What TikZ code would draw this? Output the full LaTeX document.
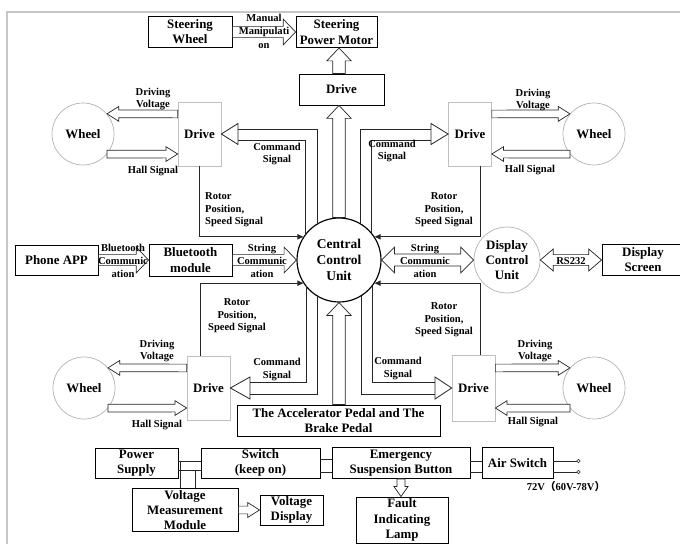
\documentclass[tikz,border=0pt]{standalone}
\usepackage{fontspec}
\setmainfont{Liberation Serif}
\newfontfamily\cjk{Noto Sans CJK SC}
\usetikzlibrary{calc, arrows.meta}

\newcommand{\boxfont}{\fontsize{11}{13}\selectfont\bfseries}
\newcommand{\lblfont}{\fontsize{9}{10.8}\selectfont\bfseries}

\tikzset{
  blk/.style n args={3}{draw=black!85, fill=white, line width=0.6pt,
    to path={let \p1=(\tikztostart), \p2=(\tikztotarget),
      \n1={atan2(\y2-\y1,\x2-\x1)}, \n2={veclen(\x2-\x1,\y2-\y1)} in
      ($(\p1)+(\n1+90:#1)$) -- ($(\p1)+(\n1:\n2-#3)+(\n1+90:#1)$)
      -- ($(\p1)+(\n1:\n2-#3)+(\n1+90:#2)$) -- (\p2)
      -- ($(\p1)+(\n1:\n2-#3)+(\n1-90:#2)$)
      -- ($(\p1)+(\n1:\n2-#3)+(\n1-90:#1)$)
      -- ($(\p1)+(\n1-90:#1)$) -- cycle}},
  dblk/.style n args={3}{draw=black!85, fill=white, line width=0.6pt,
    to path={let \p1=(\tikztostart), \p2=(\tikztotarget),
      \n1={atan2(\y2-\y1,\x2-\x1)}, \n2={veclen(\x2-\x1,\y2-\y1)} in
      (\p1) -- ($(\p1)+(\n1:#3)+(\n1+90:#2)$) -- ($(\p1)+(\n1:#3)+(\n1+90:#1)$)
      -- ($(\p1)+(\n1:\n2-#3)+(\n1+90:#1)$)
      -- ($(\p1)+(\n1:\n2-#3)+(\n1+90:#2)$) -- (\p2)
      -- ($(\p1)+(\n1:\n2-#3)+(\n1-90:#2)$)
      -- ($(\p1)+(\n1:\n2-#3)+(\n1-90:#1)$)
      -- ($(\p1)+(\n1:#3)+(\n1-90:#1)$) -- ($(\p1)+(\n1:#3)+(\n1-90:#2)$)
      -- cycle}},
  smallarr/.style={blk={3.3pt}{6.3pt}{10pt}},
  midarr/.style={blk={4.8pt}{11pt}{10.5pt}},
  bigarr/.style={blk={5.3pt}{10.4pt}{11pt}},
  tinyarr/.style={blk={3.4pt}{6pt}{8.5pt}},
  dmidarr/.style={dblk={5.2pt}{11pt}{11pt}},
}

\begin{document}
\begin{tikzpicture}[x=0.03cm, y=-0.03cm,
    box/.style={draw, line width=0.8pt, inner sep=0pt, align=center, font=\boxfont},
    drivebox/.style={draw=gray!50, line width=0.6pt, inner sep=0pt, font=\boxfont,
      minimum width=1.29cm, minimum height=1.92cm},
    wheel/.style={circle, draw=gray!60, line width=0.6pt, inner sep=0pt, font=\boxfont,
      minimum size=1.86cm},
    lbl/.style={align=center, inner sep=0pt, font=\lblfont},
    sig/.style={draw=black!85, line width=0.7pt, -{Triangle[length=5pt,width=4.5pt]}},
    pipe/.style={draw=black!85, line width=0.7pt},
    wire/.style={draw=black!85, line width=0.7pt},
    term/.style={circle, draw, line width=0.5pt, inner sep=0pt, minimum size=3pt, fill=white}]
  \useasboundingbox (0,0) rectangle (680,544);
  \draw[gray!45, line width=1.2pt] (7,544) -- (7,12) -- (680,12);

  \node[box, minimum width=2.52cm, minimum height=0.93cm] (sw) at (190,32) {Steering\\Wheel};
  \node[box, minimum width=2.43cm, minimum height=0.93cm] (spm) at (336.5,32) {Steering\\Power Motor};
  \node[box, minimum width=2.55cm, minimum height=0.93cm] (dtop) at (341.5,89.5) {Drive};
  \node[circle, draw, line width=1pt, inner sep=0pt, minimum size=2.52cm, align=center,
    font=\fontsize{11.5}{13.5}\selectfont\bfseries] (ccu) at (339,260) {Central\\Control\\Unit};

  \node[drivebox] (dtl) at (199.5,134) {Drive};
  \node[wheel] (wtl) at (83,134) {Wheel};
  \node[drivebox] (dtr) at (470,134) {Drive};
  \node[wheel] (wtr) at (594,134) {Wheel};
  \node[drivebox] (dbl) at (208.5,388) {Drive};
  \node[wheel] (wbl) at (84,388) {Wheel};
  \node[drivebox, minimum height=1.98cm] (dbr) at (473.5,388) {Drive};
  \node[wheel] (wbr) at (594,388) {Wheel};

  \node[box, minimum width=2.49cm, minimum height=0.9cm] (phone) at (56.5,260) {Phone APP};
  \node[box, minimum width=2.49cm, minimum height=0.96cm] (bt) at (190.5,260) {Bluetooth\\module};
  \node[circle, draw=gray!60, line width=0.6pt, inner sep=0pt, minimum size=1.98cm, align=center,
    font=\boxfont] (dcu) at (507,260) {Display\\Control\\Unit};
  \node[box, minimum width=2.46cm, minimum height=0.93cm] (ds) at (643,259.5) {Display\\Screen};

  \node[box, minimum width=6.09cm, minimum height=0.93cm,
    font=\fontsize{11}{12.5}\selectfont\bfseries] (acc) at (338.5,420.5) {The Accelerator Pedal and The\\Brake Pedal};

  \node[box, minimum width=2.49cm, minimum height=0.9cm] (ps) at (136.5,463) {Power\\Supply};
  \node[box, minimum width=3.57cm, minimum height=0.9cm] (sk) at (260.5,463) {Switch\\(keep on)};
  \node[box, minimum width=4.14cm, minimum height=0.93cm] (esb) at (401,463) {Emergency\\Suspension Button};
  \node[box, minimum width=2.13cm, minimum height=0.93cm] (as) at (517.5,463) {Air Switch};
  \node[box, minimum width=3.18cm, minimum height=1.29cm,
    font=\fontsize{11}{12.5}\selectfont\bfseries] (vmm) at (185,510) {Voltage\\Measurement\\Module};
  \node[box, minimum width=1.89cm, minimum height=0.9cm] (vd) at (291.5,510) {Voltage\\Display};
  \node[box, minimum width=2.76cm, minimum height=1.38cm,
    font=\fontsize{11}{13.5}\selectfont\bfseries] (fil) at (402,520) {Fault\\Indicating\\Lamp};

  \draw[midarr] (sw.east) to (spm.west);
  \draw[bigarr] (dtop.north -| ccu) to (spm.south -| ccu);
  \draw[bigarr] (ccu.north) to (dtop.south -| ccu);
  \draw[bigarr] (acc.north -| ccu) to (ccu.south);

  \draw[smallarr] ([yshift=0.6cm]dtl.west) to (wtl.40);
  \draw[smallarr] (wtl.-40) to ([yshift=-0.6cm]dtl.west);
  \draw[smallarr] ([yshift=0.6cm]dtr.east) to (wtr.140);
  \draw[smallarr] (wtr.220) to ([yshift=-0.6cm]dtr.east);
  \draw[smallarr] ([yshift=0.6cm]dbl.west) to (wbl.40);
  \draw[smallarr] (wbl.-40) to ([yshift=-0.6cm]dbl.west);
  \draw[smallarr] ([yshift=0.6cm]dbr.east) to (wbr.140);
  \draw[smallarr] (wbr.220) to ([yshift=-0.6cm]dbr.east);

  \draw[midarr] (phone.east) to (bt.west);
  \draw[midarr] (bt.east) to (ccu.west);
  \draw[dmidarr] (ccu.east) to (dcu.west);
  \draw[dblk={4.6pt}{9.4pt}{11pt}] (dcu.east) to (dcu.east -| ds.west);
  \draw[smallarr] (vmm.east) to (vd.west);
  \draw[tinyarr] (esb.south) to (esb.south |- fil.north);

  \draw[sig] (dtl.south) |- (ccu.147);
  \draw[sig] ([xshift=0.3cm]dtr.south) |- (ccu.33);
  \draw[sig] ([xshift=-0.25cm]dbl.north) |- (ccu.213);
  \draw[sig] ([xshift=0.2cm]dbr.north) |- (ccu.-33);

  \draw[pipe] (317,224.2) -- (317,129) -- (238,129);
  \draw[pipe] (305,235.3) -- (305,140) -- (238,140);
  \draw[pipe] (238,123.5) -- (dtl.east) -- (238,144.5) -- cycle;
  \draw[pipe] (360,223.6) -- (360,129) -- (431,129);
  \draw[pipe] (371,232.8) -- (371,140) -- (431,140);
  \draw[pipe] (431,123.5) -- (dtr.west) -- (431,144.5) -- cycle;
  \draw[pipe] (306,286) -- (306,382) -- (250,382);
  \draw[pipe] (317,295.8) -- (317,394) -- (250,394);
  \draw[pipe] (250,377) -- (dbl.east) -- (250,399) -- cycle;
  \draw[pipe] (372,286) -- (372,382) -- (435,382);
  \draw[pipe] (361,295.8) -- (361,394) -- (435,394);
  \draw[pipe] (435,377) -- (dbr.west) -- (435,399) -- cycle;

  \draw[wire] ([yshift=0.06cm]ps.east) -- ([yshift=0.06cm]sk.west);
  \draw[wire] ([yshift=-0.21cm]ps.east) -- ([yshift=-0.21cm]sk.west);
  \draw[wire] (180,461) -- (180,0 |- vmm.north);
  \draw[wire] (195,470) -- (195,0 |- vmm.north);
  \draw[wire] ([yshift=0.12cm]sk.east) -- ([yshift=0.12cm]esb.west);
  \draw[wire] ([yshift=-0.27cm]sk.east) -- ([yshift=-0.27cm]esb.west);
  \draw[wire] ([yshift=0.06cm]esb.east) -- ([yshift=0.06cm]as.west);
  \draw[wire] ([yshift=-0.27cm]esb.east) -- ([yshift=-0.27cm]as.west);
  \draw[wire] ([yshift=0.06cm]as.east) -- ++(25,0) node[term] (t1) {};
  \draw[wire] ([yshift=-0.27cm]as.east) -- ++(25,0) node[term] (t2) {};

  \node[lbl, font=\fontsize{9}{11.5}\selectfont\bfseries] (mm) at (264,31) {Manual\\Manipulati\\on};
  \node[lbl] (dv1) at (153,99) {Driving\\Voltage};
  \node[lbl] (hs1) at (153,171) {Hall Signal};
  \node[lbl] (cs1) at (277,154) {Command\\Signal};
  \node[lbl, align=left, anchor=west] (rp1) at (205,210) {Rotor\\Position,\\Speed Signal};
  \node[lbl] (dv2) at (533,100) {Driving\\Voltage};
  \node[lbl] (hs2) at (530,170) {Hall Signal};
  \node[lbl] (cs2) at (392,151) {Command\\Signal};
  \node[lbl] (rp2) at (444,210) {Rotor\\Position,\\Speed Signal};
  \node[lbl] (btc) at (123,261) {Bluetooth\\Communic\\ation};
  \node[lbl] (sc1) at (262,261) {String\\Communic\\ation};
  \node[lbl] (sc2) at (425,261) {String\\Communic\\ation};
  \node[lbl] (rs) at (571,261) {RS232};
  \node[lbl] (dv3) at (157,351) {Driving\\Voltage};
  \node[lbl] (hs3) at (157,425) {Hall Signal};
  \node[lbl] (cs3) at (277,369.5) {Command\\Signal};
  \node[lbl] (rp3) at (237,316) {Rotor\\Position,\\Speed Signal};
  \node[lbl] (dv4) at (535,351) {Driving\\Voltage};
  \node[lbl] (hs4) at (533,422) {Hall Signal};
  \node[lbl] (cs4) at (398,368.5) {Command\\Signal};
  \node[lbl] (rp4) at (444,320) {Rotor\\Position,\\Speed Signal};
  \node[lbl] (volt) at (566,486) {72V{\cjk （}60V-78V{\cjk ）}};
\end{tikzpicture}
\end{document}
